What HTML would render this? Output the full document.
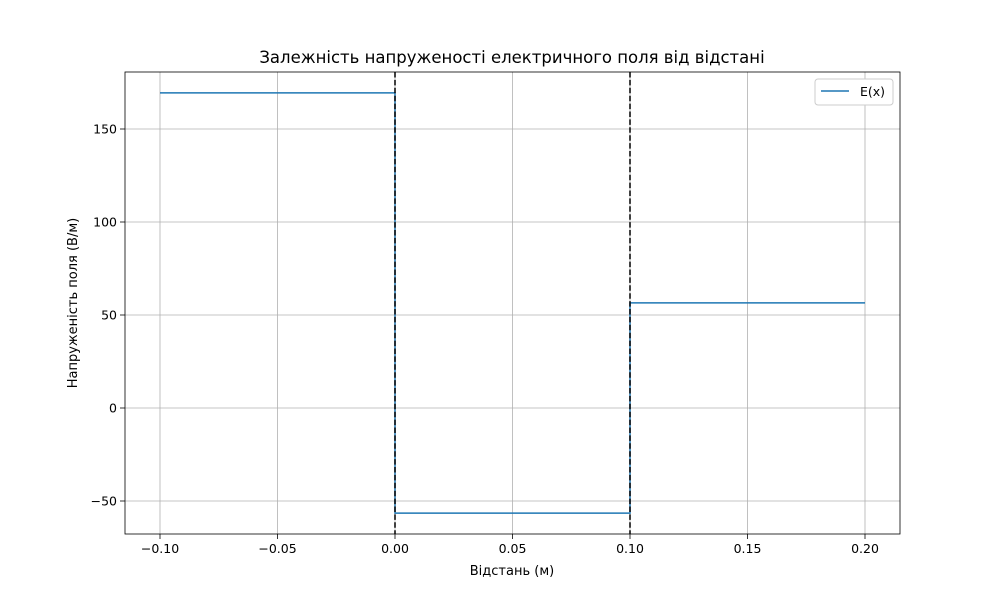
<!DOCTYPE html>
<html><head><meta charset="utf-8"><style>
body{margin:0;background:#fff}
svg{font-family:"DejaVu Sans","Liberation Sans",sans-serif}
</style></head><body>
<svg id="c" width="1000" height="600"></svg>
<script>
const xs = [-0.1, 0, 0, 0.1, 0.1, 0.2];
const ys = [169.4, 169.4, -56.5, -56.5, 56.5, 56.5];
const xTicks = [-0.10, -0.05, 0.00, 0.05, 0.10, 0.15, 0.20];
const xTickLabels = ["\u22120.10","\u22120.05","0.00","0.05","0.10","0.15","0.20"];
const yTicks = [-50, 0, 50, 100, 150];
const yTickLabels = ["\u221250","0","50","100","150"];
const vLines = [0, 0.1];

const L=125,R=900,T=72,B=534;
const X=v=>395+v*2350;
const Y=v=>408-v*1.86;
const svg=document.getElementById('c');
const NS='http://www.w3.org/2000/svg';
function mk(t,a,p){const e=document.createElementNS(NS,t);for(const k in a)e.setAttribute(k,a[k]);(p||svg).appendChild(e);return e;}

xTicks.forEach((v,i)=>{
  const g=mk('line',{x1:X(v),x2:X(v),y1:T,y2:B,stroke:'#b0b0b0','stroke-width':0.8});
  
  
  mk('line',{x1:X(v),x2:X(v),y1:B,y2:B+5,stroke:'#000','stroke-width':0.8});
  const t=mk('text',{x:X(v),y:B+19,'font-size':12.5,'text-anchor':'middle'});
  t.textContent=xTickLabels[i];
  
  
});
yTicks.forEach((v,i)=>{
  const g=mk('line',{x1:L,x2:R,y1:Y(v),y2:Y(v),stroke:'#b0b0b0','stroke-width':0.8});
  
  
  mk('line',{x1:L-5,x2:L,y1:Y(v),y2:Y(v),stroke:'#000','stroke-width':0.8});
  const t=mk('text',{x:L-8,y:Y(v)+4.5,'font-size':12.5,'text-anchor':'end'});
  t.textContent=yTickLabels[i];
  
  
});
const line=mk('polyline',{points:xs.map((x,i)=>X(x)+','+Y(ys[i])).join(' '),fill:'none',stroke:'#1f77b4','stroke-width':1.5});


vLines.forEach(v=>{
  const l=mk('line',{x1:X(v),x2:X(v),y1:T,y2:B,stroke:'#000','stroke-width':1.5,'stroke-dasharray':'5.5,2.4'});
  
  
});
const fr=mk('rect',{x:L,y:T,width:R-L,height:B-T,fill:'none',stroke:'#000','stroke-width':0.8});


const ti=mk('text',{x:512,y:63,'font-size':16.5,'text-anchor':'middle'});
ti.textContent='Залежність напруженості електричного поля від відстані';


const xl=mk('text',{x:512,y:575,'font-size':13,'text-anchor':'middle'});
xl.textContent='Відстань (м)';


const yl=mk('text',{x:77,y:303,'font-size':13,'text-anchor':'middle',transform:'rotate(-90 77 303)'});
yl.textContent='Напруженість поля (В/м)';


const lg=mk('g',{});


mk('rect',{x:815,y:79,width:78,height:26,rx:3,fill:'#fff',stroke:'#ccc','stroke-width':1},lg);
mk('line',{x1:821,x2:849,y1:91,y2:91,stroke:'#1f77b4','stroke-width':1.5},lg);
const lt=mk('text',{x:860,y:96,'font-size':12.5},lg);
lt.textContent='E(x)';


</script>
</body></html>
